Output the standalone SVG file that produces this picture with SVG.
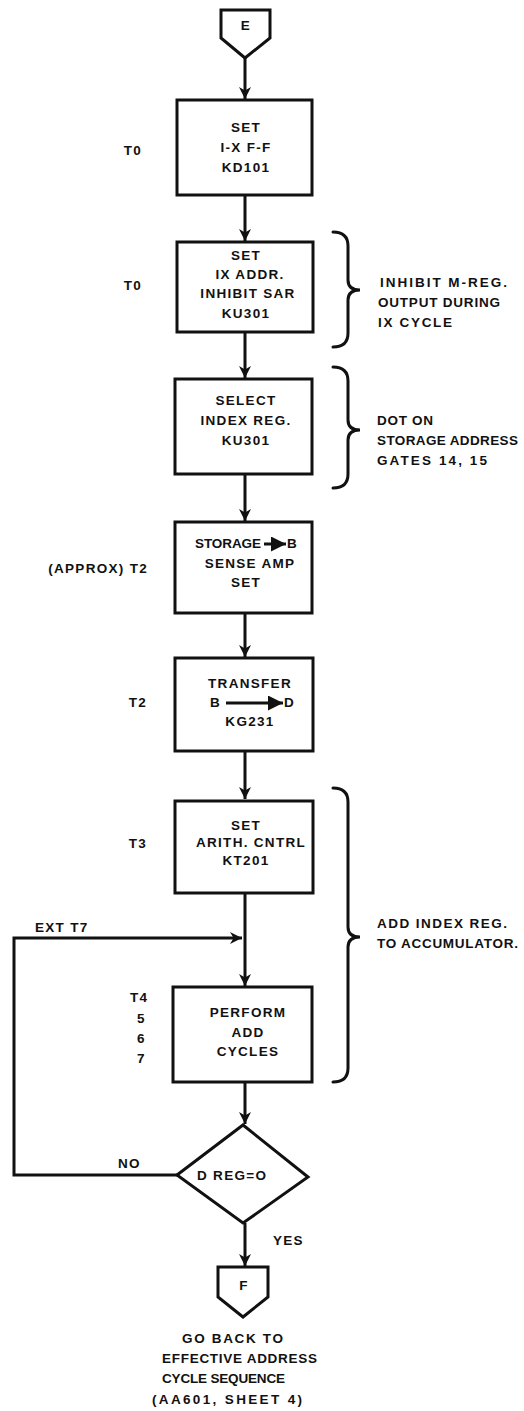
<svg xmlns="http://www.w3.org/2000/svg" width="524" height="1411" viewBox="0 0 524 1411">
<defs>
<marker id="ah" viewBox="0 0 10 10" refX="10" refY="5" markerWidth="4" markerHeight="4" orient="auto" markerUnits="strokeWidth">
<path d="M0,0 L10,5 L0,10 L3,5 Z" fill="#111"/>
</marker>
<marker id="sa" viewBox="0 0 10 10" refX="10" refY="5" markerWidth="5" markerHeight="5" orient="auto" markerUnits="strokeWidth">
<path d="M0,0 L10,5 L0,10 Z" fill="#111"/>
</marker>
</defs>
<style>
.box{fill:#fff;stroke:#111;stroke-width:3}
.ln{fill:none;stroke:#111;stroke-width:3}
.br{fill:none;stroke:#111;stroke-width:3;stroke-linecap:round}
text{font-family:"Liberation Sans","DejaVu Sans",sans-serif;font-weight:bold;font-size:13.5px;fill:#111;letter-spacing:1.3px}
.c{text-anchor:middle}
.e{text-anchor:end}
.n{letter-spacing:0}
</style>
<rect width="524" height="1411" fill="#fff"/>

<g id="connectors">
<line class="ln" x1="245" y1="58" x2="245" y2="99" marker-end="url(#ah)"/>
<line class="ln" x1="245" y1="195" x2="245" y2="241" marker-end="url(#ah)"/>
<line class="ln" x1="245" y1="332" x2="245" y2="378" marker-end="url(#ah)"/>
<line class="ln" x1="245" y1="474" x2="245" y2="521" marker-end="url(#ah)"/>
<line class="ln" x1="245" y1="613" x2="245" y2="657" marker-end="url(#ah)"/>
<line class="ln" x1="245" y1="751" x2="245" y2="799" marker-end="url(#ah)"/>
<line class="ln" x1="245" y1="893" x2="245" y2="986" marker-end="url(#ah)"/>
<line class="ln" x1="245" y1="1082" x2="245" y2="1124" marker-end="url(#ah)"/>
<line class="ln" x1="245" y1="1223" x2="245" y2="1266" marker-end="url(#ah)"/>
<polyline class="ln" points="177,1175 14,1175 14,938 242,938" marker-end="url(#ah)"/>
</g>

<g id="E">
<path class="box" d="M221,10 L270,10 L270,38 L245,58 L221,38 Z"/>
<text class="c" x="246" y="30">E</text>
</g>

<g id="n1">
<text class="c" x="133" y="155">T0</text>
<rect class="box" x="177" y="100" width="135" height="95"/>
<text class="c" x="246" y="132">SET</text>
<text class="c" x="246" y="152">I-X F-F</text>
<text class="c" x="246" y="172">KD101</text>
</g>

<g id="n2">
<text class="c" x="133" y="290">T0</text>
<rect class="box" x="177" y="242" width="136" height="90"/>
<text class="c" x="246" y="260">SET</text>
<text class="c" x="250" y="279">IX ADDR.</text>
<text class="c" x="248" y="298">INHIBIT SAR</text>
<text class="c" x="246" y="318">KU301</text>
<path class="br" d="M333,232 Q348,232 348,246 L348,280 Q348,290 360,290 Q348,290 348,300 L348,333 Q348,347 333,347"/>
<text class="n" x="380" y="287" textLength="127">INHIBIT M-REG.</text>
<text class="n" x="378" y="307" textLength="122">OUTPUT DURING</text>
<text class="n" x="378" y="327" textLength="74">IX CYCLE</text>
</g>

<g id="n3">
<rect class="box" x="175" y="379" width="137" height="95"/>
<text class="c" x="246" y="405">SELECT</text>
<text class="c" x="246" y="425">INDEX REG.</text>
<text class="c" x="246" y="445">KU301</text>
<path class="br" d="M333,367 Q348,367 348,381 L348,420 Q348,430 360,430 Q348,430 348,440 L348,474 Q348,488 333,488"/>
<text class="n" x="377" y="425" textLength="56">DOT ON</text>
<text class="n" x="377" y="445" textLength="141">STORAGE ADDRESS</text>
<text class="n" x="377" y="465" textLength="110">GATES 14, 15</text>
</g>

<g id="n4">
<text class="e" x="148" y="573">(APPROX) T2</text>
<rect class="box" x="175" y="522" width="137" height="91"/>
<text class="n" x="195" y="548" textLength="66">STORAGE</text>
<line class="ln" x1="264" y1="544" x2="286" y2="544" stroke-width="2.5" marker-end="url(#sa)"/>
<text x="287" y="548">B</text>
<text class="c" x="250" y="568">SENSE AMP</text>
<text class="c" x="246" y="587">SET</text>
</g>

<g id="n5">
<text class="c" x="138" y="707">T2</text>
<rect class="box" x="175" y="658" width="138" height="93"/>
<text class="c" x="250" y="688">TRANSFER</text>
<text x="210" y="707">B</text>
<line class="ln" x1="226" y1="703" x2="283" y2="703" stroke-width="2.5" marker-end="url(#sa)"/>
<text x="284" y="707">D</text>
<text class="c" x="250" y="726">KG231</text>
</g>

<g id="n6">
<text class="c" x="138" y="848">T3</text>
<rect class="box" x="175" y="801" width="138" height="92"/>
<text class="c" x="246" y="830">SET</text>
<text class="c" x="251" y="847">ARITH. CNTRL</text>
<text class="c" x="246" y="865">KT201</text>
<path class="br" d="M333,788 Q348,788 348,802 L348,927 Q348,937 360,937 Q348,937 348,947 L348,1068 Q348,1082 333,1082"/>
<text class="n" x="377" y="928" textLength="130">ADD INDEX REG.</text>
<text class="n" x="377" y="948" textLength="141">TO ACCUMULATOR.</text>
</g>

<g id="ext">
<text x="35" y="932">EXT T7</text>
</g>

<g id="n7">
<text x="130" y="1002">T4</text>
<text x="137" y="1023">5</text>
<text x="137" y="1043">6</text>
<text x="137" y="1063">7</text>
<rect class="box" x="173" y="987" width="139" height="95"/>
<text class="c" x="248" y="1017">PERFORM</text>
<text class="c" x="248" y="1037">ADD</text>
<text class="c" x="248" y="1056">CYCLES</text>
</g>

<g id="decision">
<path class="box" d="M177,1175 L243,1125 L308,1177 L243,1223 Z"/>
<text x="197" y="1180">D REG=O</text>
<text x="118" y="1168">NO</text>
<text x="273" y="1245">YES</text>
</g>

<g id="F">
<path class="box" d="M218,1267 L268,1267 L268,1297 L243,1317 L218,1297 Z"/>
<text class="c" x="244" y="1290">F</text>
<text class="n" x="182" y="1343" textLength="101">GO BACK TO</text>
<text class="n" x="162" y="1363" textLength="155">EFFECTIVE ADDRESS</text>
<text class="n" x="162" y="1383" textLength="123">CYCLE SEQUENCE</text>
<text class="n" x="152" y="1404" textLength="150">(AA601, SHEET 4)</text>
</g>
</svg>
